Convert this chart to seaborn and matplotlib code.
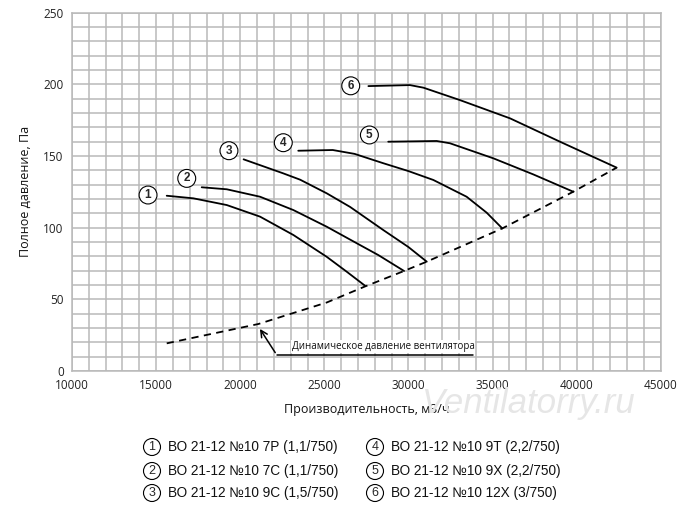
import matplotlib
matplotlib.use('Agg')
import matplotlib.pyplot as plt
import numpy as np
import pandas as pd
import seaborn as sns
from matplotlib.ticker import MultipleLocator

# --- Данные ---
q1 = [15630, 17210, 19200, 21180, 23160, 25140, 26330, 27420]
p1 = [122.3, 120.5, 115.8, 107.7, 94.9, 79.7, 69.3, 59.5]

q2 = [17710, 19200, 21180, 23160, 25140, 27120, 28210, 29740]
p2 = [128.2, 126.8, 121.6, 112.3, 100.7, 87.9, 80.9, 69.8]

q3 = [20200, 22560, 23560, 25140, 26530, 28500, 30000, 31090]
p3 = [147.7, 137.9, 133.5, 124.0, 114.5, 98.4, 86.5, 76.3]

q4 = [23450, 25500, 26800, 28500, 30000, 31480, 33460, 34650, 35580]
p4 = [153.7, 154.2, 151.5, 145.0, 139.5, 133.3, 121.6, 110.5, 99.5]

q5 = [28800, 31680, 32470, 35050, 37420, 39800]
p5 = [160.0, 160.5, 158.9, 148.4, 137.2, 125.1]

q6 = [27620, 30090, 30890, 33070, 36040, 39010, 42380]
p6 = [198.8, 199.5, 197.7, 189.0, 176.3, 160.0, 141.9]

# динамическое давление
q_dyn = [15630, 21080, 25140, 27420, 29740, 31090, 35580, 39800, 42380]
p_dyn = [19.3, 32.8, 47.8, 59.0, 69.8, 76.3, 99.5, 125.1, 141.9]

curve_ids = ['1', '2', '3', '4', '5', '6']
label_q = [14520, 16820, 19330, 22560, 27680, 26570]
label_p = [122.8, 134.4, 153.7, 159.3, 164.7, 199.0]

legend_names = ['ВО 21-12 №10 7Р (1,1/750)',
                'ВО 21-12 №10 7С (1,1/750)',
                'ВО 21-12 №10 9С (1,5/750)',
                'ВО 21-12 №10 9Т (2,2/750)',
                'ВО 21-12 №10 9Х (2,2/750)',
                'ВО 21-12 №10 12Х (3/750)']

qs = [q1, q2, q3, q4, q5, q6]
ps = [p1, p2, p3, p4, p5, p6]
rows = []
for cid, q, p in zip(curve_ids, qs, ps):
    for a, b in zip(q, p):
        rows.append({'curve': cid, 'q': a, 'p': b})
df = pd.DataFrame(rows)
df_dyn = pd.DataFrame({'q': q_dyn, 'p': p_dyn})

sns.set_theme(style='white')
plt.rcParams['font.family'] = ['Open Sans', 'DejaVu Sans']
narrow = ['Liberation Sans Narrow', 'Liberation Sans', 'DejaVu Sans']

fig = plt.figure(figsize=(7, 5.15), dpi=100)
ax = fig.add_axes([0.1029, 0.2796, 0.8410, 0.6957])

grid_c = '#b9b9b9'
ax.set_xlim(10000, 45000)
ax.set_ylim(0, 250)
ax.xaxis.set_major_locator(MultipleLocator(5000))
ax.xaxis.set_minor_locator(MultipleLocator(1000))
ax.yaxis.set_major_locator(MultipleLocator(50))
ax.yaxis.set_minor_locator(MultipleLocator(10))
ax.grid(True, which='both', color=grid_c, linewidth=1.1)
ax.set_axisbelow(True)
for s in ax.spines.values():
    s.set_color(grid_c)
    s.set_linewidth(1.1)

sns.lineplot(data=df, x='q', y='p', units='curve', estimator=None, sort=False,
             color='black', linewidth=1.3, ax=ax)
sns.lineplot(data=df_dyn, x='q', y='p', estimator=None, sort=False,
             color='black', linewidth=1.3, linestyle=(0, (4, 3)), ax=ax)

# номера кривых в кружках
for cid, x, y in zip(curve_ids, label_q, label_p):
    ax.text(x, y, cid, ha='center', va='center', fontsize=8.5, fontweight='bold',
            family=narrow,
            bbox=dict(boxstyle='circle,pad=0.25', fc='white', ec='black', lw=0.8))

# подпись динамического давления
ax.annotate('', xy=(21080, 31.0), xytext=(22170, 11.2),
            arrowprops=dict(arrowstyle='->', color='black', lw=1.1))
ax.plot([22170, 33860], [11.2, 11.2], color='black', linewidth=1.1)
ax.text(23050, 17.0, 'Динамическое давление вентилятора', fontsize=7.0,
        ha='left', va='center', color='#111111',
        bbox=dict(fc='white', ec='none', pad=0.6))

ax.tick_params(axis='both', which='major', direction='out', length=4,
               color=grid_c, width=1.1, labelsize=8.5, labelcolor='#222222', pad=2)
ax.tick_params(axis='both', which='minor', length=0)
ax.set_xlabel('Производительность, м3/ч', fontsize=9, color='#111111', labelpad=8)
ax.set_ylabel('Полное давление, Па', fontsize=9, color='#111111', labelpad=8)

# водяной знак
fig.text(528 / 700, 1 - 403 / 515, 'Ventilatorry.ru', fontsize=25, style='italic',
         ha='center', va='center', color='#e6e6e6', family=narrow)

# легенда под графиком
row_y = [447, 471, 493]
for i, name in enumerate(legend_names):
    col = i // 3
    cx = [152, 375][col]
    tx = [168, 391][col]
    y = 1 - row_y[i % 3] / 515
    fig.text(cx / 700, y, curve_ids[i], ha='center', va='center', fontsize=9,
             family=narrow,
             bbox=dict(boxstyle='circle,pad=0.2', fc='white', ec='black', lw=0.8))
    fig.text(tx / 700, y, name, ha='left', va='center', fontsize=9.8,
             family=narrow, color='#111111')

fig.savefig('out.png', dpi=100)
